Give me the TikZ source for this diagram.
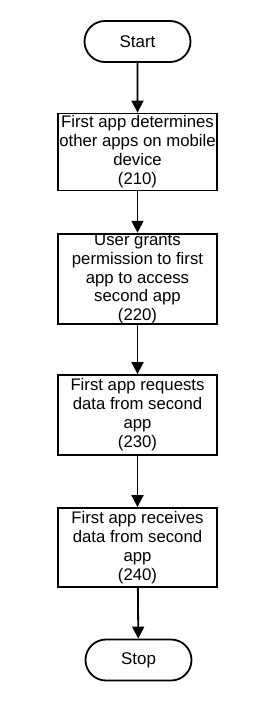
\documentclass[tikz,border=0pt]{standalone}
\usepackage{fontspec}
\setmainfont{Liberation Sans}
\usetikzlibrary{arrows.meta,shapes.misc}
\begin{document}
\begin{tikzpicture}[x=1bp,y=-1bp,
  terminal/.style={draw,line width=1.8bp,rounded rectangle,minimum width=106bp,minimum height=41bp,inner sep=0pt,font=\fontsize{17}{19}\selectfont},
  procbox/.style={draw,line width=1.8bp,rectangle,minimum width=159bp,inner sep=0pt,align=center,font=\fontsize{16.8}{19}\selectfont},
  flow/.style={line width=1.8bp,-{Triangle[length=12bp,width=12bp]}}]
\useasboundingbox (0,0) rectangle (273,701);
\node[terminal] (start) at (137.5,41.5) {Start};
\node[procbox,minimum height=77bp] (b1) at (137.5,152) {First app determines\\other apps on mobile\\device\\(210)};
\node[procbox,minimum height=88bp] (b2) at (137.5,279) {User grants\\permission to first\\app to access\\second app\\(220)};
\node[procbox,minimum height=80bp] (b3) at (137.5,415) {First app requests\\data from second\\app\\(230)};
\node[procbox,minimum height=79bp] (b4) at (137.5,547.5) {First app receives\\data from second\\app\\(240)};
\node[terminal] (stop) at (138.5,660) {Stop};
\draw[flow] (start) -- (b1);
\draw[flow] (b1) -- (b2);
\draw[flow] (b2) -- (b3);
\draw[flow] (b3) -- (b4);
\draw[flow] (b4) -- (stop);
\end{tikzpicture}
\end{document}
